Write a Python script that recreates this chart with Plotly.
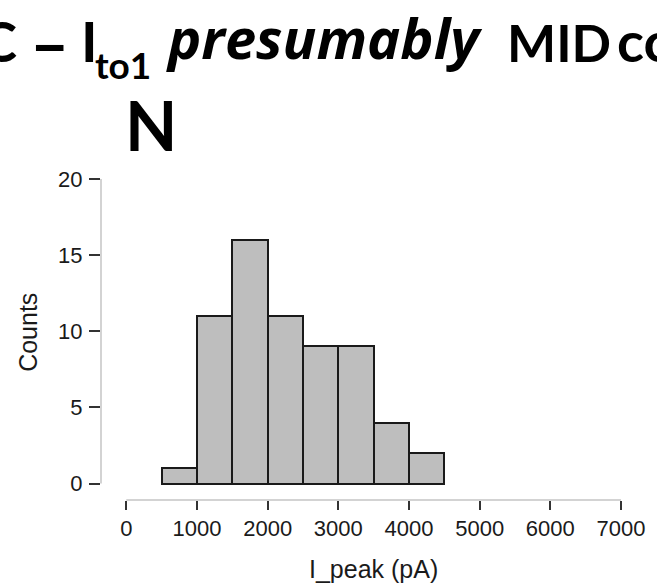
import plotly.graph_objects as go

# ---- data ----
bin_edges = [500, 1000, 1500, 2000, 2500, 3000, 3500, 4000, 4500]
counts = [1, 11, 16, 11, 9, 9, 4, 2]
x_ticks = [0, 1000, 2000, 3000, 4000, 5000, 6000, 7000]
y_ticks = [0, 5, 10, 15, 20]
x_title = "I_peak (pA)"
y_title = "Counts"
panel_letter = "N"

centers = [(a + b) / 2 for a, b in zip(bin_edges[:-1], bin_edges[1:])]
widths = [b - a for a, b in zip(bin_edges[:-1], bin_edges[1:])]

W, H = 657, 584
L, R, T, B = 101, 627, 179, 500  # plot area in pixels


def px(x):
    return (x - L) / (R - L)


def py(y):
    return (B - y) / (B - T)


fig = go.Figure()
fig.add_trace(go.Bar(
    x=centers, y=counts, width=widths,
    marker=dict(color="#bebebe", line=dict(color="#1a1a1a", width=2)),
    showlegend=False, hoverinfo="skip",
))

xpx_per = (R - 126.6) / 7000.0
x_lo = 0 - (126.6 - L) / xpx_per
ypx_per = (483.5 - 179) / 20.0
y_lo = 0 - (B - 483.5) / ypx_per

tickfont = dict(family="Liberation Sans, Arial, sans-serif", size=22, color="#1a1a1a")
fig.update_layout(
    width=W, height=H,
    margin=dict(l=L, r=W - R, t=T, b=H - B, pad=0),
    paper_bgcolor="white", plot_bgcolor="white",
    bargap=0,
    xaxis=dict(range=[x_lo, 7000], tickvals=x_ticks, ticks="outside", ticklen=9,
               tickwidth=2, tickcolor="#333333", showline=False, showgrid=False,
               zeroline=False, tickfont=tickfont, ticklabelstandoff=0),
    yaxis=dict(range=[y_lo, 20], tickvals=y_ticks, ticks="outside", ticklen=11,
               tickwidth=2, tickcolor="#333333", showline=False, showgrid=False,
               zeroline=False, tickfont=tickfont, ticklabelstandoff=2),
    shapes=[
        dict(type="line", xref="paper", yref="y", x0=0, x1=0, y0=0, y1=20,
             line=dict(color="#c4c4c4", width=1.5)),
        dict(type="line", xref="x", yref="paper", x0=0, x1=7000, y0=0, y1=0,
             line=dict(color="#c4c4c4", width=1.5)),
    ],
)

ann = []
axfont = dict(family="Liberation Sans, Arial, sans-serif", size=25, color="#1a1a1a")
ann.append(dict(text=x_title, x=px(376.8), y=py(569), xref="paper", yref="paper",
                xanchor="center", yanchor="middle", showarrow=False, font=axfont))
ann.append(dict(text=y_title, x=px(27), y=py(332), xref="paper", yref="paper",
                xanchor="center", yanchor="middle", showarrow=False, font=axfont,
                textangle=-90))

tf = "Lato, Carlito, sans-serif"
big = dict(family=tf, size=56, color="black", weight="bold")
mid = dict(family=tf, size=52, color="black", weight="bold")
dash = dict(family=tf, size=68, color="black", weight="bold")
sub = dict(family=tf, size=37, color="black", weight="bold")
ital = dict(family="Open Sans, Noto Sans, sans-serif", size=56, color="black",
            weight="bold", style="italic")


def text_ann(t, x, y, font, xanchor="left"):
    return dict(text=t, x=px(x), y=py(y), xref="paper", yref="paper",
                xanchor=xanchor, yanchor="middle", showarrow=False, font=font,
                borderpad=0)


ann.append(text_ann("C", 17, 41, big, "right"))
ann.append(text_ann("–", 49, 42, dash, "center"))
ann.append(text_ann("I", 80, 41, big))
ann.append(text_ann("to1", 94, 64, sub))
ann.append(text_ann("presumably", 166, 37, ital))
ann.append(text_ann("MID", 511, 42, mid))
ann.append(text_ann("co", 622, 41, big))
ann.append(text_ann(panel_letter, 152, 124,
                    dict(family=tf, size=68, color="black", weight="bold"), "center"))

fig.update_layout(annotations=ann)
fig.write_html("out.html")
